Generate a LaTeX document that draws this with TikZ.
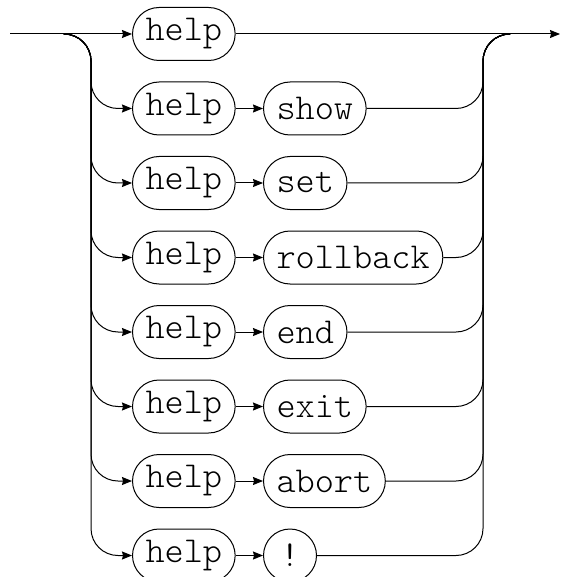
\documentclass[tikz,border=0pt]{standalone}
\usepackage{fontspec}
\newfontfamily\railfont{Latin Modern Mono Light}
\usetikzlibrary{arrows.meta}
\tikzset{term/.style={draw,rounded corners=26.5pt,minimum height=53pt,minimum width=53pt,inner xsep=13pt,inner ysep=0pt,font=\railfont\fontsize{36.5}{44}\selectfont}}
\begin{document}
\begin{tikzpicture}[x=1pt,y=-1pt,>={Stealth[length=10pt,width=8pt,inset=1pt]},line width=1pt,line join=round]
	\def\dy{74.5}
	\useasboundingbox (0,0) rectangle (560,577);
	\coordinate (in) at (10,34); \coordinate (split) at (65,34);
	\coordinate (lbus) at (91,34); \coordinate (rbus) at (483,34);
	\coordinate (join) at (510,34); \coordinate (out) at (560,34);
	\node[term,anchor=west] (h1) at (132,34) {help};
	\draw[->] (in)--(h1);
	\draw[->] (h1)--(out);
	\foreach \w [count=\i from 2] in {show,set,rollback,end,exit,abort,!}{
		\node[term,anchor=west] (h\i) at (132,{34+(\i-1)*\dy}) {help};
		\node[term,anchor=west] (w\i) at (263,{34+(\i-1)*\dy}) {\w};
		\draw[->,rounded corners=27pt] (split)--(lbus)--(lbus|-h\i)--(h\i);
		\draw[->] (h\i)--(w\i);
		\draw[rounded corners=27pt] (w\i)--(rbus|-w\i)--(rbus)--(join);
	}
\end{tikzpicture}
\end{document}
